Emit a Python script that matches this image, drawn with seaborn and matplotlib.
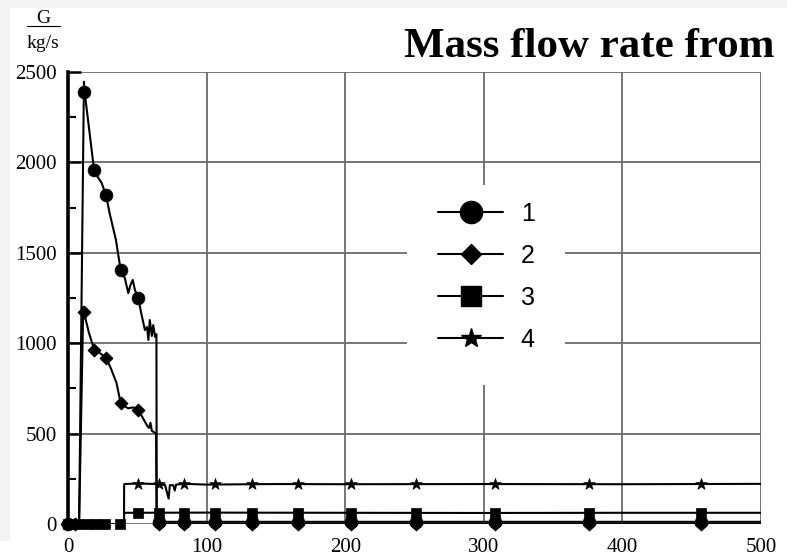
import numpy as np
import pandas as pd
import matplotlib
matplotlib.use("Agg")
import matplotlib.pyplot as plt
import seaborn as sns
from matplotlib.lines import Line2D
from matplotlib.patches import Rectangle

# ---------------- data ----------------
# series 1 (circles)
t1 = [0, 8, 11.5, 12, 18.8, 21, 24.3, 27.4, 30, 34.6, 38, 41, 43.5, 45, 46.7, 48.3,
      50.7, 53, 55.5, 57, 58, 59, 60.5, 61.5, 62.8, 63.8, 64, 500]
G1 = [0, 0, 2446, 2390, 1958, 1925, 1886, 1820, 1720, 1570, 1405, 1360, 1277, 1320, 1350, 1294,
      1250, 1160, 1073, 1090, 1018, 1128, 1040, 1100, 1036, 1050, 12, 12]
# series 2 (diamonds)
t2 = [0, 8, 11, 11.5, 15, 19, 23, 27.4, 31, 35, 38, 41, 43.5, 47, 50.7, 53, 55.5, 57,
      58.4, 59.5, 60.5, 61.5, 63.5, 64, 500]
G2 = [0, 0, 1200, 1171, 1060, 962, 945, 920, 860, 780, 669, 650, 640, 645, 630, 600, 566, 545,
      531, 560, 515, 510, 500, 0, 0]
# series 3 (squares)
t3 = [0, 40.4, 40.5, 100, 200, 300, 400, 500]
G3 = [0, 0, 62, 63, 62, 61, 62, 62]
# series 4 (stars)
t4 = [0, 40.4, 40.5, 50, 60, 66, 70, 72.6, 73.5, 76, 77, 78, 84, 100, 150, 200, 300, 400, 500]
G4 = [0, 0, 221, 224, 222, 219, 216, 140, 215, 214, 185, 218, 222, 218, 221, 220, 221, 220, 222]

# marker positions
m1_t = [0, 11.5, 18.8, 27.4, 38, 50.7, 66, 84, 106, 133, 166, 204, 251, 308, 376, 457]
m1_G = [0, 2390, 1958, 1820, 1405, 1250, 12, 12, 12, 12, 12, 12, 12, 12, 12, 12]
m2_t = [-1, 5, 11.5, 19, 27.4, 38, 50.7, 66, 84, 106, 133, 166, 204, 251, 308, 376, 457]
m2_G = [0, 0, 1171, 962, 920, 669, 630, 0, 0, 0, 0, 0, 0, 0, 0, 0, 0]
m3_t = [0, 6.5, 13.7, 20, 27, 37.4, 50.4, 66, 84, 106, 133, 166, 204, 251, 308, 376, 457]
m3_G = [0, 0, 0, 0, 0, 0, 62, 62, 62, 62, 62, 62, 62, 62, 62, 62, 62]
m4_t = [50.4, 66, 84, 106, 133, 166, 204, 251, 308, 376, 457]
m4_G = [222, 221, 222, 221, 219, 221, 220, 221, 221, 220, 222]

labels = ["1", "2", "3", "4"]
xticks = [0, 100, 200, 300, 400, 500]
yticks = [0, 500, 1000, 1500, 2000, 2500]

# ---------------- figure ----------------
sns.set_theme(style="white")
plt.rcParams["font.family"] = ["Liberation Serif", "DejaVu Serif"]
plt.rcParams["text.color"] = "black"
plt.rcParams["xtick.color"] = "black"
plt.rcParams["ytick.color"] = "black"
plt.rcParams["xtick.labelcolor"] = "black"
plt.rcParams["ytick.labelcolor"] = "black"

fig = plt.figure(figsize=(7.87, 5.59), dpi=100, facecolor="white")
ax = fig.add_axes([68 / 787, 35 / 559, 693 / 787, 452 / 559])
ax.set_facecolor("white")

# grey screenshot margins
fig.patches.append(Rectangle((0, 551 / 559), 1, 8 / 559, transform=fig.transFigure,
                             facecolor="#f3f3f3", edgecolor="none", zorder=0))
fig.patches.append(Rectangle((0, 18 / 559), 10 / 787, 533 / 559, transform=fig.transFigure,
                             facecolor="#f3f3f3", edgecolor="none", zorder=0))

series = [(t1, G1), (t2, G2), (t3, G3), (t4, G4)]
rows = []
for lab, (tt, gg) in zip(labels, series):
    for a, b in zip(tt, gg):
        rows.append({"t": a, "G": b, "series": lab})
df = pd.DataFrame(rows)

sns.lineplot(data=df, x="t", y="G", units="series", estimator=None, sort=False,
             color="black", lw=1.5, ax=ax, legend=False, zorder=3)

mk = [("o", 85, m1_t, m1_G), ("D", 45, m2_t, m2_G), ("s", 60, m3_t, m3_G), ("*", 75, m4_t, m4_G)]
for marker, s, mt, mg in mk:
    sns.scatterplot(x=mt, y=mg, marker=marker, s=s, color="black", edgecolor="black",
                    linewidth=0.5, ax=ax, legend=False, zorder=4, clip_on=False)

ax.set_xlim(0, 500)
ax.set_ylim(0, 2500)
ax.set_xticks(xticks)
ax.set_yticks(yticks)
ax.set_yticks(np.arange(250, 2500, 500), minor=True)
ax.set_xlabel("")
ax.set_ylabel("")
ax.grid(True, which="major", color="#6a6a6a", lw=1.3)
ax.set_axisbelow(True)

for side in ["top", "right", "bottom"]:
    ax.spines[side].set_visible(False)
ax.spines["left"].set_color("black")
ax.spines["left"].set_linewidth(2.6)
ax.spines["left"].set_zorder(5)

ax.tick_params(axis="y", which="major", direction="in", length=9, width=1.8, color="black",
               labelcolor="black", labelsize=15, pad=8, left=True)
ax.tick_params(axis="y", which="minor", direction="in", length=6, width=1.5, color="black", left=True)
ax.tick_params(axis="x", which="major", length=0, labelsize=15, pad=10, labelcolor="black")

# y-axis label as fraction G / kg/s
fig.text(43 / 787, 1 - 23 / 559, "G", ha="center", va="baseline", fontsize=14, color="black")
fig.add_artist(Line2D([27 / 787, 60 / 787], [1 - 25.5 / 559, 1 - 25.5 / 559], color="black", lw=0.8,
                      transform=fig.transFigure))
fig.text(43 / 787, 1 - 48 / 559, "kg/s", ha="center", va="baseline", fontsize=14, color="black")

# title
fig.text(404 / 787, 1 - 57 / 559, "Mass flow rate from", ha="left", va="baseline",
         fontsize=31, fontweight="bold", color="black")

# legend with white background block
ax.add_patch(Rectangle((339 / 693, 139 / 452), 158 / 693, 200 / 452, transform=ax.transAxes,
                       facecolor="white", edgecolor="none", zorder=2))
handles = [
    Line2D([], [], color="black", lw=1.5, marker="o", markersize=16),
    Line2D([], [], color="black", lw=1.5, marker="D", markersize=10),
    Line2D([], [], color="black", lw=1.5, marker="s", markersize=15),
    Line2D([], [], color="black", lw=1.5, marker="*", markersize=15),
]
leg = ax.legend(handles, labels, loc="center", bbox_to_anchor=(418.5 / 693, 1 - 204.5 / 452),
                frameon=False, handlelength=2.6, handletextpad=0.7, labelspacing=0.72,
                borderpad=0, prop={"family": "Liberation Sans", "size": 18})
for txt in leg.get_texts():
    txt.set_color("black")
leg.set_zorder(6)

fig.savefig("out.png", dpi=100, facecolor="white")
